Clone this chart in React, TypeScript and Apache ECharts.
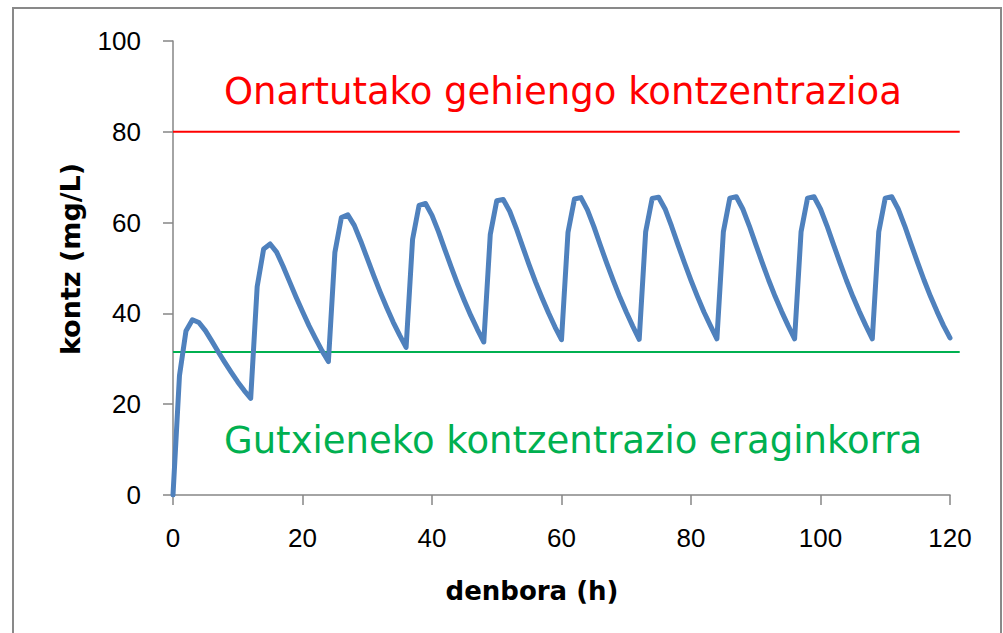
import React, { useEffect, useRef } from "react";
import * as echarts from "echarts";

const hours = [
  0, 1, 2, 3, 4, 5, 6, 7, 8, 9, 10, 11,
  12, 13, 14, 15, 16, 17, 18, 19, 20, 21, 22, 23,
  24, 25, 26, 27, 28, 29, 30, 31, 32, 33, 34, 35,
  36, 37, 38, 39, 40, 41, 42, 43, 44, 45, 46, 47,
  48, 49, 50, 51, 52, 53, 54, 55, 56, 57, 58, 59,
  60, 61, 62, 63, 64, 65, 66, 67, 68, 69, 70, 71,
  72, 73, 74, 75, 76, 77, 78, 79, 80, 81, 82, 83,
  84, 85, 86, 87, 88, 89, 90, 91, 92, 93, 94, 95,
  96, 97, 98, 99, 100, 101, 102, 103, 104, 105, 106, 107,
  108, 109, 110, 111, 112, 113, 114, 115, 116, 117, 118, 119,
  120,
];

const concentration = [
  0, 26.3, 36.1, 38.6, 38.0, 36.2, 33.9, 31.5, 29.2, 27.0, 24.9, 23.0,
  21.3, 45.9, 54.2, 55.3, 53.5, 50.4, 47.0, 43.6, 40.4, 37.3, 34.5, 31.8,
  29.4, 53.4, 61.1, 61.7, 59.4, 55.9, 52.1, 48.3, 44.7, 41.3, 38.1, 35.2,
  32.5, 56.3, 63.8, 64.2, 61.6, 58.0, 54.0, 50.1, 46.3, 42.8, 39.5, 36.5,
  33.7, 57.4, 64.8, 65.1, 62.5, 58.8, 54.7, 50.7, 46.9, 43.4, 40.1, 37.0,
  34.2, 57.8, 65.2, 65.5, 62.8, 59.1, 55.0, 51.0, 47.2, 43.6, 40.3, 37.2,
  34.3, 58.0, 65.3, 65.6, 63.0, 59.2, 55.1, 51.1, 47.3, 43.7, 40.3, 37.3,
  34.4, 58.0, 65.4, 65.7, 63.0, 59.3, 55.2, 51.2, 47.3, 43.7, 40.4, 37.3,
  34.4, 58.0, 65.4, 65.7, 63.0, 59.3, 55.2, 51.2, 47.3, 43.7, 40.4, 37.3,
  34.4, 58.0, 65.4, 65.7, 63.0, 59.3, 55.2, 51.2, 47.3, 43.7, 40.4, 37.3,
  34.6,
];

const maxConc = 80; // Onartutako gehiengo kontzentrazioa
const minConc = 31.5; // Gutxieneko kontzentrazio eraginkorra
const refLineX = [0, 121.5];

const maxLabel = "Onartutako gehiengo kontzentrazioa";
const minLabel = "Gutxieneko kontzentrazio eraginkorra";
const xTitle = "denbora (h)";
const yTitle = "kontz (mg/L)";

const AXIS_COLOR = "#868686";

export default function App() {
  const ref = useRef<HTMLDivElement>(null);

  useEffect(() => {
    if (!ref.current) return;
    const chart = echarts.init(ref.current, null, { renderer: "svg" });
    const textGraphics = [
      {
        type: "rect",
        shape: { x: 13, y: 8, width: 988, height: 640 },
        style: { fill: "none", stroke: "#898989", lineWidth: 2 },
        silent: true,
        z: 0,
      },
      {
        type: "text",
        x: 224,
        y: 91,
        style: {
          text: maxLabel,
          fill: "#FF0000",
          fontFamily: "DejaVu Sans",
          fontSize: 37,
          textAlign: "left",
          textVerticalAlign: "middle",
        },
        z: 10,
      },
      {
        type: "text",
        x: 224,
        y: 440,
        style: {
          text: minLabel,
          fill: "#00B050",
          fontFamily: "DejaVu Sans",
          fontSize: 37,
          textAlign: "left",
          textVerticalAlign: "middle",
        },
        z: 10,
      },
      {
        type: "text",
        x: 532,
        y: 591,
        style: {
          text: xTitle,
          fill: "#000",
          fontFamily: "DejaVu Sans",
          fontWeight: "bold",
          fontSize: 26,
          textAlign: "center",
          textVerticalAlign: "middle",
        },
        z: 10,
      },
      {
        type: "text",
        x: 70,
        y: 259,
        rotation: Math.PI / 2,
        style: {
          text: yTitle,
          fill: "#000",
          fontFamily: "DejaVu Sans",
          fontWeight: "bold",
          fontSize: 27,
          textAlign: "center",
          textVerticalAlign: "middle",
        },
        z: 10,
      },
    ];
    chart.setOption({
      animation: false,
      backgroundColor: "#ffffff",
      grid: {
        left: 173,
        right: 53,
        top: 41,
        bottom: 138,
        containLabel: false,
        outerBoundsMode: "none",
      },
      xAxis: {
        type: "value",
        min: 0,
        max: 120,
        interval: 20,
        axisLine: { show: true, lineStyle: { color: AXIS_COLOR, width: 1.5 } },
        axisTick: { show: true, length: 10, lineStyle: { color: AXIS_COLOR, width: 1.5 } },
        splitLine: { show: false },
        axisLabel: {
          margin: 30,
          color: "#000",
          fontFamily: "Liberation Sans",
          fontSize: 26,
        },
      },
      yAxis: {
        type: "value",
        min: 0,
        max: 100,
        interval: 20,
        axisLine: { show: true, lineStyle: { color: AXIS_COLOR, width: 1.5 } },
        axisTick: { show: true, length: 10, lineStyle: { color: AXIS_COLOR, width: 1.5 } },
        splitLine: { show: false },
        axisLabel: {
          margin: 32,
          color: "#000",
          fontFamily: "Liberation Sans",
          fontSize: 26,
        },
      },
      series: [
        {
          type: "line",
          data: concentration.map((v, i) => [hours[i], v]),
          symbol: "none",
          lineStyle: { color: "#4F81BD", width: 5, join: "round", cap: "round" },
          z: 3,
        },
      ],
      graphic: textGraphics,
    });

    // Reference lines, positioned through the chart's own scales
    const refLine = (value: number, color: string) => {
      const p0 = chart.convertToPixel({ gridIndex: 0 }, [refLineX[0], value]) as number[];
      const p1 = chart.convertToPixel({ gridIndex: 0 }, [refLineX[1], value]) as number[];
      return {
        type: "line",
        shape: { x1: p0[0], y1: p0[1], x2: p1[0], y2: p1[1] },
        style: { stroke: color, lineWidth: 2 },
        silent: true,
        z: 1,
      };
    };
    chart.setOption({
      graphic: [
        ...textGraphics,
        refLine(maxConc, "#FF0000"),
        refLine(minConc, "#00B050"),
      ],
    });
    return () => chart.dispose();
  }, []);

  return (
    <div
      ref={ref}
      style={{ position: "absolute", left: 0, top: 0, width: 1003, height: 633 }}
    />
  );
}
